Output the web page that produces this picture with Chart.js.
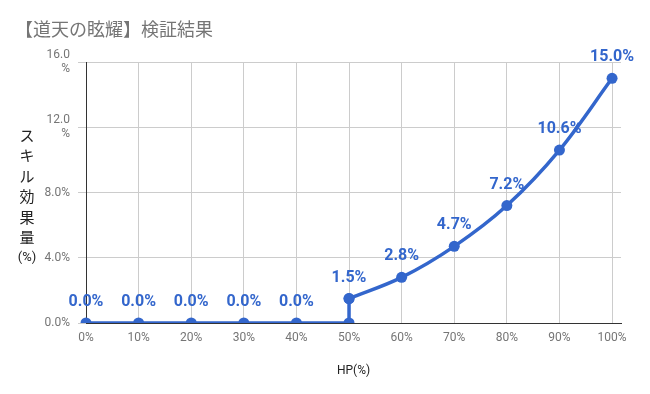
<!DOCTYPE html>
<html>
<head>
<meta charset="utf-8">
<script src="https://cdn.jsdelivr.net/npm/chart.js@4.4.1/dist/chart.umd.min.js"></script>
<style>
  html, body { margin: 0; padding: 0; background: #fff; }
  #wrap { width: 650px; height: 394px; position: relative; }
</style>
</head>
<body>
<div id="wrap"><canvas id="chart" width="650" height="394"></canvas></div>
<script>
const chartTitle = "【道天の眩耀】検証結果";
const yTitleChars = ["ス", "キ", "ル", "効", "果", "量", "(%)"];
const xTitle = "HP(%)";

// HP (%) and skill effect (%); 50% appears twice (jump from 0 to 1.5)
const hpValues = [0, 10, 20, 30, 40, 50, 50, 60, 70, 80, 90, 100];
const effectValues = [0, 0, 0, 0, 0, 0, 1.5, 2.8, 4.7, 7.2, 10.6, 15.0];
const showLabel = [true, true, true, true, true, false, true, true, true, true, true, true];
const splitIndex = 6; // flat part up to here, curved part from here

const xTickValues = [0, 10, 20, 30, 40, 50, 60, 70, 80, 90, 100];
const yTickValues = [0, 4, 8, 12, 16];
const yTickLabels = ["0.0%", "4.0%", "8.0%", ["12.0", "%"], ["16.0", "%"]];

const BLUE = "#3366cc";

const toPoints = (from, to) =>
  hpValues.slice(from, to).map((x, i) => ({ x: x, y: effectValues[from + i] }));

const textPlugin = {
  id: "texts",
  afterDraw(chart) {
    const ctx = chart.ctx;
    const area = chart.chartArea;
    ctx.save();
    // chart title
    ctx.fillStyle = "#757575";
    ctx.font = '18px "Noto Sans CJK JP"';
    ctx.textAlign = "left";
    ctx.textBaseline = "middle";
    ctx.fillText(chartTitle, 15, 29);
    // stacked y title
    ctx.fillStyle = "#222";
    ctx.textAlign = "center";
    const step = 20.5;
    const startY = (area.top + area.bottom) / 2 - (yTitleChars.length - 1) * step / 2 + 4;
    yTitleChars.forEach((ch, i) => {
      ctx.font = ch.length > 1 ? '13px Roboto' : '15px "Noto Sans CJK JP"';
      ctx.fillText(ch, 27, startY + i * step);
    });
    ctx.restore();
  },
  afterDatasetsDraw(chart) {
    const ctx = chart.ctx;
    const xs = chart.scales.x, ys = chart.scales.y;
    ctx.save();
    ctx.fillStyle = BLUE;
    ctx.font = 'bold 16px Roboto';
    ctx.textAlign = "center";
    ctx.textBaseline = "alphabetic";
    hpValues.forEach((hp, i) => {
      if (!showLabel[i]) return;
      const px = xs.getPixelForValue(hp);
      const py = ys.getPixelForValue(effectValues[i]);
      ctx.fillText(effectValues[i].toFixed(1) + "%", px, py - 17);
    });
    ctx.restore();
  }
};

const lineStyle = {
  borderColor: BLUE,
  backgroundColor: BLUE,
  borderWidth: 3.5,
  pointRadius: 5.5,
  pointHoverRadius: 5.5,
  pointBorderWidth: 0,
  fill: false,
  clip: { left: false, top: false, right: false, bottom: 0 }
};

new Chart(document.getElementById("chart"), {
  type: "line",
  data: {
    datasets: [
      Object.assign({ data: toPoints(0, splitIndex + 1), tension: 0 }, lineStyle),
      Object.assign({ data: toPoints(splitIndex, hpValues.length), tension: 0.35 }, lineStyle)
    ]
  },
  options: {
    responsive: false,
    animation: false,
    devicePixelRatio: 1,
    layout: { padding: { top: 62, right: 29, left: 0, bottom: 0 } },
    plugins: { legend: { display: false }, tooltip: { enabled: false }, title: { display: false } },
    scales: {
      x: {
        type: "linear",
        min: 0,
        max: 101.7,
        afterBuildTicks: (s) => { s.ticks = xTickValues.map(v => ({ value: v })); },
        afterFit: (s) => { s.height = 71; },
        ticks: {
          color: "#757575",
          font: { family: "Roboto", size: 12 },
          padding: 8,
          maxRotation: 0,
          callback: (v) => v + "%"
        },
        grid: { color: "#cccccc", drawTicks: false },
        border: { color: "#333333", width: 1 },
        title: {
          display: true,
          text: xTitle,
          color: "#222",
          font: { family: "Roboto", size: 12 },
          padding: { top: 4, bottom: 16 }
        }
      },
      y: {
        min: 0,
        max: 16,
        afterBuildTicks: (s) => { s.ticks = yTickValues.map(v => ({ value: v })); },
        afterFit: (s) => { s.width = 86; },
        ticks: {
          color: "#757575",
          font: { family: "Roboto", size: 12 },
          padding: 8,
          callback: (v, i) => yTickLabels[i]
        },
        grid: { color: "#cccccc", tickLength: 8 },
        border: { color: "#333333", width: 1 }
      }
    }
  },
  plugins: [textPlugin]
});
</script>
</body>
</html>
